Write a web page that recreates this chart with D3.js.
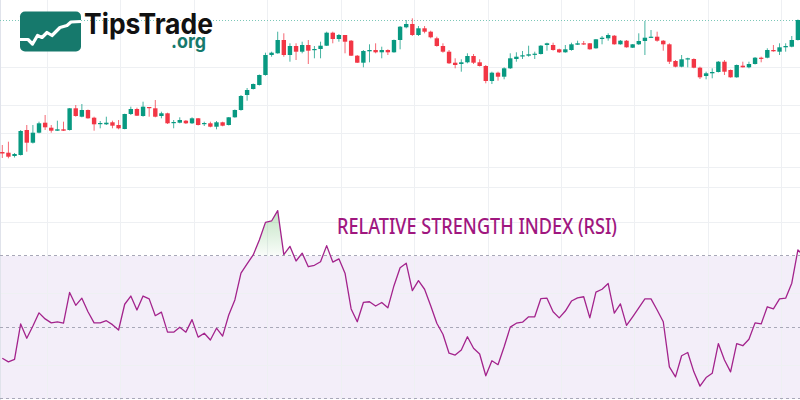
<!DOCTYPE html>
<html><head><meta charset="utf-8">
<script src="https://cdn.jsdelivr.net/npm/d3@7"></script>
<style>html,body{margin:0;padding:0;background:#fff;}svg{display:block;}</style>
</head><body>
<svg id="chart" width="800" height="400"></svg>
<script>
// ---- DATA ----
const openP  = [48,47.3,44,45,70,57.3,67.3,77.3,72.3,69.3,70.7,70,91.7,83.3,90,82.3,76.3,75.7,77.7,75,71,86,91,84,93,91.7,84,86.7,77.3,77.3,79.3,76.7,81.7,76.3,76.7,73.3,77.7,75,82.7,90,105,111,115,125,145,146.7,160,145,154,148.3,155,150,151,154.3,167.3,161,165,159.3,144.3,137.3,148.7,150,147.7,150,147.7,160,172.7,176,165,171.7,168.3,161.7,154,148.3,137.3,136,137.7,144,137.7,134,119,127.3,123.3,131.7,141,144,144.3,145.7,146,155,155,150.7,147.7,150,155.3,156.7,156.7,151.7,161,161.7,164.3,155.7,159.3,152.3,155.7,159,162.3,163.3,159.3,155.7,139,133.3,140.7,141,132.3,124,126.7,128,138.3,130,122.7,134.3,132.7,136,142.3,142.3,150,148.3,152.7,153.3,160];
const highP  = [55,58.3,47,70,75,75,78.3,85,75,79.3,78.3,92,95,96,90.5,83.3,79,83.3,79.3,80,86.3,93.3,92.3,98.3,93,100,88.3,87.3,80,82.7,80,82.7,82,78.3,78.3,79,78.3,83,90.5,105,112,116.5,125.5,147.3,148.3,168.3,166.7,156.7,156.7,158.3,160,154,158.3,168.3,168.3,166,165,160,145,150,155.7,156.7,153.3,150.7,160.5,174,180,181.7,174,174,169.3,163.3,156.7,150,141.7,140.7,146.7,146,140.7,135,128.3,128.3,132.7,146.7,147.7,149,154.3,148.3,155,157.3,157.3,151.3,155,157.3,159.3,159,157,161,164,166.7,165,160,160,156,166.7,179,170,168.3,160,156.7,140,145,142.3,141.7,133.3,128.3,131.7,139,140,130.5,135.5,138.3,138.3,143,143.3,151.7,155,156.7,156.7,164,180.5];
const lowP   = [42,41.7,42.5,44.5,48.3,56.5,66.7,70,67.3,69,69,69.5,83.3,82.7,81.3,69.3,71.7,75,71.7,70.7,70.7,85,84,83.3,83.3,82.7,81.7,76,71.7,76.7,76,76,74.5,74,72.7,70.7,73.7,74.5,82.3,89.3,99.3,110.5,114.5,124.3,143.3,146.3,143.3,138.3,140,146.7,136,141.7,141.7,154,156.7,158.3,146.7,144,137,132.7,137.7,146.7,141.7,145,147.3,150.7,171.7,164,164,166.7,161.7,153.3,147.3,136,131.7,128.3,136.7,136,133.5,116.7,116,119.3,120.7,131,138.3,141,143.3,141,145.5,149.3,149.3,147,147.3,149.3,155,155,150.3,151.3,155.7,159.3,155.3,155.3,152.3,152,155,145,162,158.3,149.3,136,132.7,132.7,132.7,131.7,121,120.7,121.7,127.5,125,122.3,122.3,132.5,131.7,135.5,137.7,141.7,148.3,145,148.3,152.7,159.5];
const closeP = [46.5,43.3,46,69,57.3,67.3,76.7,72.7,69.3,70.7,69.3,91.7,84,90,81.7,75.7,77,77.3,74.3,71.7,86,91,84.3,93.3,92,83.3,86.7,76.7,78,80,76.7,81.7,75,77,73.3,77.7,74.3,82.7,90,104,110,116,125,145,147.3,160,145,154,148.3,155,149.3,151,154.3,167.3,161,165,158.3,144.3,137.3,149,150,147.7,150,147.7,160,173.3,176,165,171.7,168.3,162.7,154,148.3,136.7,135,137.7,144,137.3,134,119,127.3,123.3,131.7,141.7,143.3,144.7,145.7,146.3,154.3,156.7,150,147.7,150.7,155.7,156.7,155.7,150.7,160.7,162.3,165,155.7,159.3,152.7,155.7,159,162.3,163.3,159.3,155.7,138.3,133.3,140.7,141.7,132.3,122.7,126.7,128,138.3,128.3,122.7,135,132.7,136,142.3,141.7,150,148.7,152.7,154,160,180];
const rsiValues = [41.4,40.4,41.1,51.0,47.0,50.4,54.1,52.4,51.3,51.6,51.2,59.8,56.2,58.2,54.4,51.3,51.3,51.9,50.8,49.3,56.5,58.8,54.9,58.8,58.0,53.3,54.3,48.7,48.7,50.1,48.7,52.2,47.3,48.4,46.5,49.8,47.6,53.5,57.7,65.2,67.8,70.3,74.5,79.4,79.8,82.7,70.4,72.7,68.6,70.8,67.0,67.4,68.4,72.9,68.3,69.2,65.2,55.2,51.6,57.0,57.2,56.0,57.0,55.5,61.7,66.7,68.0,60.3,63.1,60.7,56.1,51.2,48.1,42.8,42.3,43.7,47.4,44.2,42.6,36.5,40.7,39.6,44.6,50.1,51.2,51.5,53.0,53.0,58.1,58.2,54.4,52.7,54.6,57.4,58.3,58.6,52.7,59.9,60.7,62.3,54.0,56.6,50.6,53.0,55.5,58.0,58.0,54.9,51.6,39.0,36.2,42.1,43.0,37.6,33.6,36.0,37.2,45.5,40.9,37.6,45.5,44.9,46.7,51.3,51.0,55.8,55.2,58.0,58.2,62.4,71.7,70.0];
const rsiLevels = [70, 50, 30];
const gridIndex = [7.3, 19.3, 31.3, 43.3, 55.3, 67.3, 79.3, 91.3, 103.3, 115.3, 127.3];
const priceGrid = [133, 95, 67, 33, 13];
const rsiGrid = [79.5, 59.7, 39.5];
const titleText = "RELATIVE STRENGTH INDEX (RSI)";

// ---- CHART ----
const W = 800, H = 400;
const svg = d3.select("#chart");
const x = d3.scaleLinear().domain([0, 130]).range([2.3, 797.9]);
const yP = d3.scaleLinear().domain([20, 180]).range([180, 20]);
const yR = d3.scaleLinear().domain([30, 70]).range([399, 256]);

const green = "#089981", red = "#f23645";
const defs = svg.append("defs");
const grad = defs.append("linearGradient").attr("id","ob")
  .attr("gradientUnits","userSpaceOnUse").attr("x1",0).attr("x2",0).attr("y1", yR(83)).attr("y2", yR(70));
grad.append("stop").attr("offset","0%").attr("stop-color","#4caf50").attr("stop-opacity",0.35);
grad.append("stop").attr("offset","100%").attr("stop-color","#4caf50").attr("stop-opacity",0.03);
defs.append("clipPath").attr("id","above70").append("rect").attr("x",0).attr("y",0).attr("width",W).attr("height",yR(70));
defs.append("clipPath").attr("id","plot").append("rect").attr("x",0).attr("y",0).attr("width",W).attr("height",H);

// RSI band
svg.append("rect").attr("x",0).attr("y",yR(70)).attr("width",W).attr("height",yR(30)-yR(70)).attr("fill","#f3eef9");

// grid
const g = svg.append("g").attr("stroke","#eef0f3").attr("stroke-width",1);
g.selectAll("line.v").data(gridIndex).join("line").attr("class","v")
  .attr("x1",d=>Math.round(x(d))+0.5).attr("x2",d=>Math.round(x(d))+0.5).attr("y1",0).attr("y2",H);
g.selectAll("line.hp").data(priceGrid).join("line").attr("class","hp")
  .attr("x1",0).attr("x2",W).attr("y1",d=>Math.round(yP(d))+0.5).attr("y2",d=>Math.round(yP(d))+0.5);
g.selectAll("line.hr").data(rsiGrid).join("line").attr("class","hr")
  .attr("x1",0).attr("x2",W).attr("y1",d=>Math.round(yR(d))+0.5).attr("y2",d=>Math.round(yR(d))+0.5);
svg.append("line").attr("x1",0.5).attr("x2",0.5).attr("y1",0).attr("y2",H).attr("stroke","#e0e3eb");

// RSI dashed levels
svg.selectAll("line.lvl").data(rsiLevels).join("line").attr("class","lvl")
  .attr("x1",0).attr("x2",W).attr("y1",d=>Math.round(yR(d))-0.5).attr("y2",d=>Math.round(yR(d))-0.5)
  .attr("stroke","#a8a8b8").attr("stroke-dasharray","3,3").attr("stroke-width",1);

// last price dotted line
const lastClose = closeP[closeP.length-1];
svg.append("line").attr("x1",0).attr("x2",W).attr("y1",yP(lastClose)+0.5).attr("y2",yP(lastClose)+0.5)
  .attr("stroke","#7cc7b8").attr("stroke-dasharray","1,2").attr("stroke-width",1);

// candles
const candles = openP.map((o,i)=>({i,o,h:highP[i],l:lowP[i],c:closeP[i]}));
const cg = svg.append("g").attr("clip-path","url(#plot)");
cg.selectAll("line.wick").data(candles).join("line").attr("class","wick")
  .attr("x1",d=>x(d.i)).attr("x2",d=>x(d.i)).attr("y1",d=>yP(d.h)).attr("y2",d=>yP(d.l))
  .attr("stroke",d=>d.c>=d.o?green:red).attr("stroke-opacity",0.75).attr("stroke-width",1);
const bw = 4.4;
cg.selectAll("rect.body").data(candles).join("rect").attr("class","body")
  .attr("x",d=>x(d.i)-bw/2).attr("width",bw)
  .attr("y",d=>yP(Math.max(d.o,d.c)))
  .attr("height",d=>Math.max(1.2, Math.abs(yP(d.o)-yP(d.c))))
  .attr("fill",d=>d.c>=d.o?green:red);

// RSI overbought fill
const rsiPts = rsiValues.map((v,i)=>({i,v}));
const area = d3.area().x(d=>x(d.i)).y0(yR(70)).y1(d=>yR(d.v));
svg.append("path").datum(rsiPts).attr("d",area).attr("fill","url(#ob)").attr("clip-path","url(#above70)");

// RSI line
const line = d3.line().x(d=>x(d.i)).y(d=>yR(d.v));
svg.append("path").datum(rsiPts).attr("d",line).attr("fill","none")
  .attr("stroke","#a3238c").attr("stroke-width",1.3).attr("stroke-linejoin","round").attr("clip-path","url(#plot)");

// RSI title
svg.append("text").attr("x",337).attr("y",234).text(titleText)
  .attr("font-family","'Noto Sans', 'Open Sans', sans-serif").attr("font-size",21).attr("font-weight",500)
  .attr("fill","#a0177f").attr("textLength",280).attr("lengthAdjust","spacingAndGlyphs");

// Logo
const logo = svg.append("g");
logo.append("rect").attr("x",20).attr("y",11.5).attr("width",61).attr("height",40).attr("rx",5).attr("fill","#16796c");
const zig = [[20,39.5],[28,39.5],[32.5,44],[37.5,35.5],[42,37.5],[47,32.5],[52,35.5],[60,27.5],[67,25.5],[71,22],[81,21.5]];
logo.append("path").attr("d",d3.line()(zig)).attr("fill","none").attr("stroke","#fff").attr("stroke-width",3.2)
  .attr("stroke-linejoin","round");
const logoText = logo.append("text")
  .attr("font-family","Inter, 'Open Sans', sans-serif").attr("font-weight",700);
logoText.append("tspan").attr("x",84).attr("y",33.5).text("TipsTrade")
  .attr("font-size",28).attr("fill","#111").attr("textLength",129).attr("lengthAdjust","spacingAndGlyphs");
logoText.append("tspan").attr("x",171).attr("y",48).text(".org")
  .attr("font-size",19).attr("fill","#16796c").attr("textLength",35).attr("lengthAdjust","spacingAndGlyphs");
</script>
</body></html>
